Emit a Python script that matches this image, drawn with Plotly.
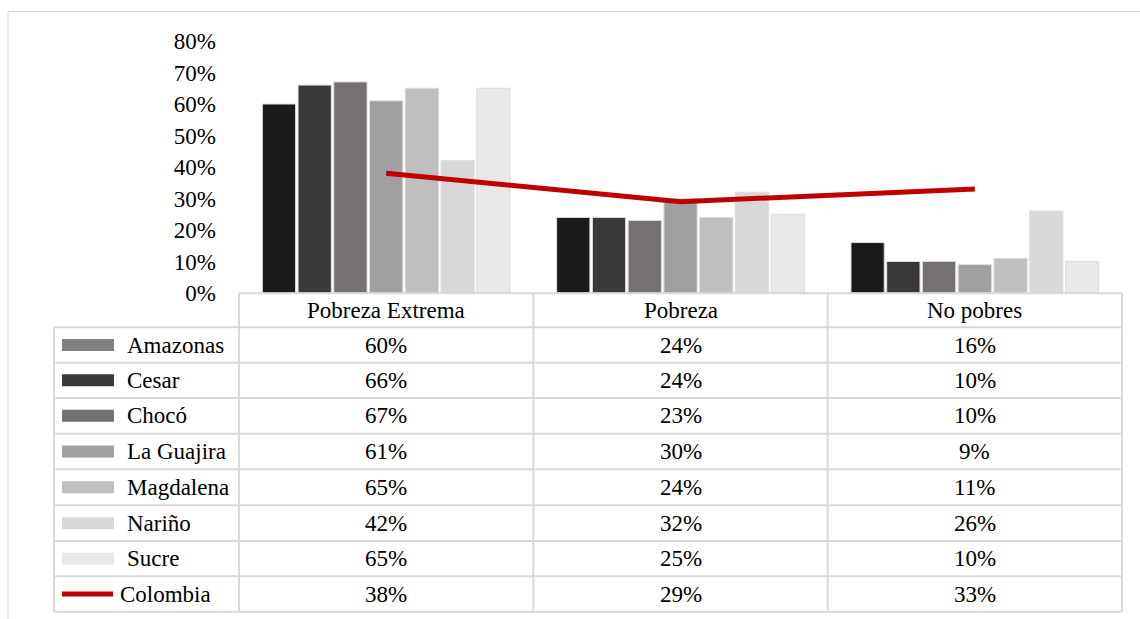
import plotly.graph_objects as go

categories = ["Pobreza Extrema", "Pobreza", "No pobres"]
series_names = ["Amazonas", "Cesar", "Chocó", "La Guajira", "Magdalena", "Nariño", "Sucre"]
amazonas = [60, 24, 16]
cesar = [66, 24, 10]
choco = [67, 23, 10]
la_guajira = [61, 30, 9]
magdalena = [65, 24, 11]
narino = [42, 32, 26]
sucre = [65, 25, 10]
colombia = [38, 29, 33]
series_values = [amazonas, cesar, choco, la_guajira, magdalena, narino, sucre]

bar_colors = ["#1a1a1a", "#3b3938", "#757170", "#a0a0a0", "#bfbfbf", "#d8d8d8", "#e8e8e8"]
key_colors = ["#808080", "#3b3938", "#757170", "#a0a0a0", "#bfbfbf", "#d8d8d8", "#e8e8e8"]
line_color = "#c00000"
grid_color = "#d9d9d9"
FONT = "Liberation Serif, Times New Roman, serif"
FS = 23

W, H = 1140, 619

def px(x):
    return x / W

def py(y):
    return 1 - y / H

fig = go.Figure()
for name, vals, col in zip(series_names, series_values, bar_colors):
    fig.add_trace(go.Bar(x=categories, y=vals, name=name,
                         marker=dict(color=col, line=dict(color="#dcdcdc", width=1))))
fig.add_trace(go.Scatter(x=categories, y=colombia, name="Colombia", mode="lines",
                         line=dict(color=line_color, width=5)))

# table geometry (pixels)
x_left, x_col, x_right = 54, 239, 1122
row_edges = [293.3, 327.3, 362.7, 398, 433.7, 469.3, 505.3, 541, 576.3, 611.7]
cat_w = (x_right - x_col) / 3

shapes = []
# outer frame (right and bottom edges fall outside the view)
shapes.append(dict(type="rect", xref="paper", yref="paper", x0=px(8), x1=px(1150),
                   y0=py(630), y1=py(11.5), line=dict(color=grid_color, width=1)))
# horizontal lines
for i, yy in enumerate(row_edges):
    x0 = x_col if i == 0 else x_left
    shapes.append(dict(type="line", xref="paper", yref="paper", x0=px(x0), x1=px(x_right),
                       y0=py(yy), y1=py(yy), line=dict(color=grid_color, width=2)))
# vertical lines
shapes.append(dict(type="line", xref="paper", yref="paper", x0=px(x_left), x1=px(x_left),
                   y0=py(row_edges[1]), y1=py(row_edges[-1]), line=dict(color=grid_color, width=2)))
for k in range(4):
    xx = x_col + k * cat_w
    shapes.append(dict(type="line", xref="paper", yref="paper", x0=px(xx), x1=px(xx),
                       y0=py(row_edges[0]), y1=py(row_edges[-1]), line=dict(color=grid_color, width=2)))

annotations = []
# header
for j, c in enumerate(categories):
    annotations.append(dict(x=c, xref="x", y=py((row_edges[0] + row_edges[1]) / 2), yref="paper",
                            text=c, showarrow=False, font=dict(family=FONT, size=FS, color="#000"),
                            xanchor="center", yanchor="middle"))
all_names = series_names + ["Colombia"]
all_vals = series_values + [colombia]
for i, (nm, vals) in enumerate(zip(all_names, all_vals)):
    yc = (row_edges[i + 1] + row_edges[i + 2]) / 2
    if i < len(series_names):
        shapes.append(dict(type="rect", xref="paper", yref="paper", x0=px(62), x1=px(114),
                           y0=py(yc + 6), y1=py(yc - 6), fillcolor=key_colors[i],
                           line=dict(width=0)))
        tx = 125
    else:
        shapes.append(dict(type="line", xref="paper", yref="paper", x0=px(62), x1=px(113),
                           y0=py(yc), y1=py(yc), line=dict(color=line_color, width=5)))
        tx = 118
    annotations.append(dict(x=px(tx), xref="paper", y=py(yc), yref="paper", text=nm,
                            showarrow=False, font=dict(family=FONT, size=FS, color="#000"),
                            xanchor="left", yanchor="middle"))
    for c, v in zip(categories, vals):
        annotations.append(dict(x=c, xref="x", y=py(yc), yref="paper", text=f"{v}%",
                                showarrow=False, font=dict(family=FONT, size=FS, color="#000"),
                                xanchor="center", yanchor="middle"))

fig.update_layout(
    width=W, height=H,
    margin=dict(l=0, r=0, t=0, b=0, autoexpand=False),
    paper_bgcolor="white", plot_bgcolor="white",
    barmode="group", bargap=0.15, bargroupgap=0.07,
    showlegend=False,
    font=dict(family=FONT, size=FS, color="#000"),
    xaxis=dict(domain=[px(x_col), px(x_right)], range=[-0.5, 2.5], showticklabels=False,
               showgrid=False, zeroline=False, showline=False, fixedrange=True, automargin=False),
    yaxis=dict(domain=[py(293), py(41)], range=[0, 80], dtick=10, ticksuffix="%",
               showgrid=False, zeroline=False, showline=False, ticks="", automargin=False,
               ticklabelstandoff=22, tickfont=dict(family=FONT, size=FS, color="#000")),
    shapes=shapes,
    annotations=annotations,
)

fig.write_html("out.html")
